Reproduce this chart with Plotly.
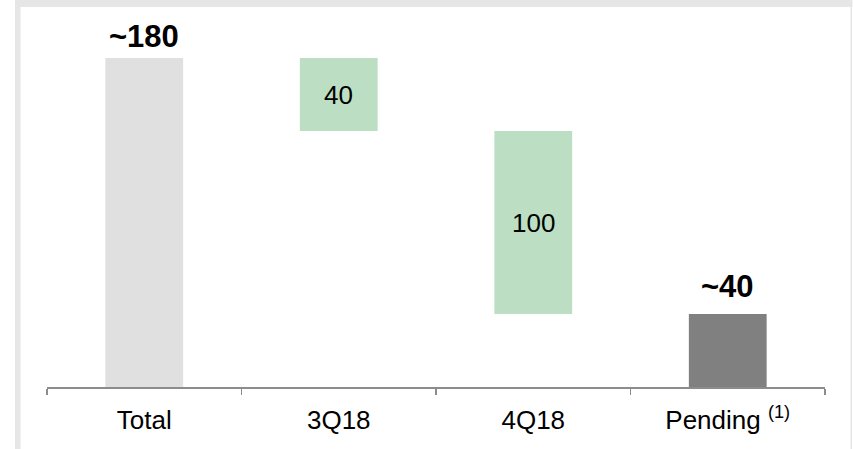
import plotly.graph_objects as go

# ---- data ----
categories = ["Total", "3Q18", "4Q18", "Pending"]
tick_labels = ["Total", "3Q18", "4Q18", "Pending <sup>(1)</sup>"]
total_value = 180
quarter_values = [40, 100]          # 3Q18, 4Q18 reductions
pending_value = 40
bar_labels = ["~180", "40", "100", "~40"]
label_is_outside = [True, False, False, True]

# ---- derived floating-bar geometry ----
heights = [total_value] + quarter_values + [pending_value]
bases = [0]
level = total_value
for q in quarter_values:
    level -= q
    bases.append(level)
bases.append(0)
tops = [b + h for b, h in zip(bases, heights)]
mids = [b + h / 2 for b, h in zip(bases, heights)]

colors = ["#e0e0e0", "#bcdfc4", "#bcdfc4", "#808080"]
outside_shift = [2, 8, 8, 8]

W, H = 853, 449
L, R, T, B = 47, 825, 20, 387  # plot area in pixels
FONT = "Liberation Sans, Arial, sans-serif"


def px(x):
    return (x - L) / (R - L)


def py(y):
    return (B - y) / (B - T)


fig = go.Figure(
    go.Bar(
        x=categories,
        y=heights,
        base=bases,
        marker=dict(color=colors, line=dict(width=0)),
        width=0.4,
        cliponaxis=False,
        hoverinfo="skip",
    )
)

annotations = []
for cat, top, mid, lab, out, sh in zip(categories, tops, mids, bar_labels,
                                       label_is_outside, outside_shift):
    if out:
        annotations.append(dict(
            x=cat, y=top, xref="x", yref="y", text=f"<b>{lab}</b>",
            showarrow=False, yanchor="bottom", yshift=sh,
            font=dict(size=31, color="#000000", family=FONT),
        ))
    else:
        annotations.append(dict(
            x=cat, y=mid, xref="x", yref="y", text=lab,
            showarrow=False, yanchor="middle",
            font=dict(size=26, color="#000000", family=FONT),
        ))

frame = "#e6e6e6"
shapes = [
    dict(type="rect", xref="paper", yref="paper", layer="below",
         x0=px(15), x1=px(852.5), y0=py(0), y1=py(7),
         fillcolor=frame, line=dict(width=0)),
    dict(type="rect", xref="paper", yref="paper", layer="below",
         x0=px(15), x1=px(20.5), y0=py(0), y1=py(449),
         fillcolor=frame, line=dict(width=0)),
    dict(type="rect", xref="paper", yref="paper", layer="below",
         x0=px(850.5), x1=px(852), y0=py(0), y1=py(449),
         fillcolor=frame, line=dict(width=0)),
]

fig.update_layout(
    width=W, height=H,
    margin=dict(l=L, r=W - R, t=T, b=H - B, pad=0),
    paper_bgcolor="white", plot_bgcolor="white",
    showlegend=False,
    shapes=shapes,
    annotations=annotations,
    font=dict(family=FONT, color="#000000"),
    bargap=0.6,
)
fig.update_xaxes(
    type="category",
    tickvals=categories, ticktext=tick_labels,
    range=[-0.5, 3.5],
    showline=True, linecolor="#8c8c8c", linewidth=1.5,
    ticks="outside", tickson="boundaries", ticklen=6, tickcolor="#8c8c8c", tickwidth=1.5,
    tickfont=dict(size=26, color="#000000"),
    ticklabelstandoff=9,
    showgrid=False, zeroline=False,
)
fig.update_yaxes(
    range=[0, (B - T) * total_value / (B - 58)],
    visible=False, showgrid=False, zeroline=False,
)

fig.write_html(
    "out.html",
    config={"displayModeBar": False, "staticPlot": True},
    post_script="document.body.style.margin='0';document.body.style.overflow='hidden';",
)
